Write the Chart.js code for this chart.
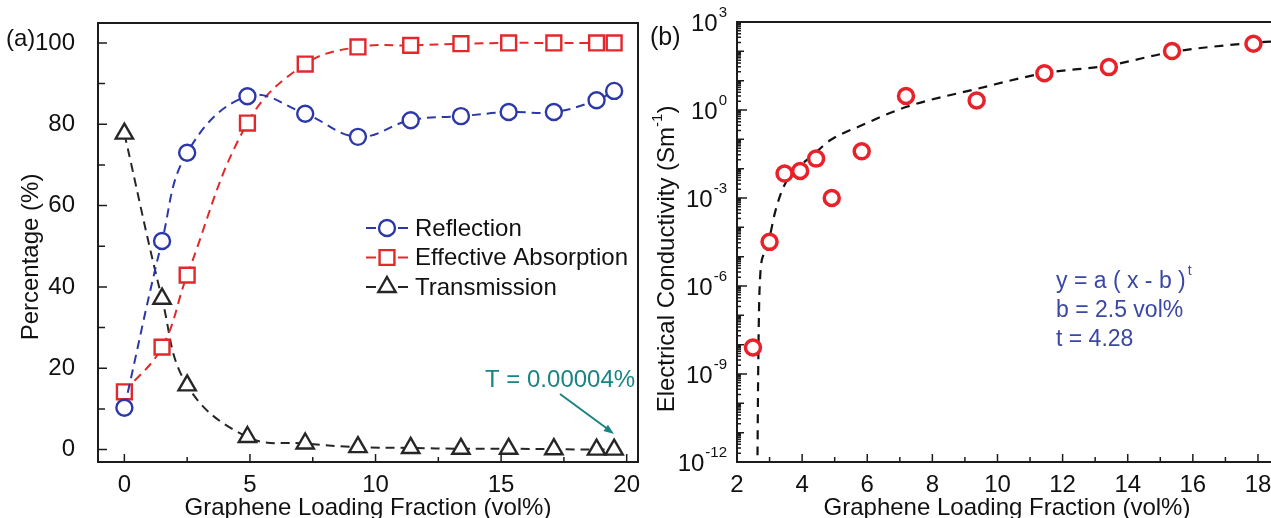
<!DOCTYPE html>
<html>
<head>
<meta charset="UTF-8">
<title>Graphene loading fraction</title>
<script src="https://cdn.jsdelivr.net/npm/chart.js"></script>
<style>
  body { margin: 0; background: #fff; width: 1271px; height: 518px; overflow: hidden; }
  .panel { position: absolute; top: 0; height: 518px; }
  #pa { left: 0; width: 645px; }
  #pb { left: 645px; width: 626px; }
</style>
</head>
<body>
<div class="panel" id="pa"><canvas id="ga" width="645" height="518"></canvas></div>
<div class="panel" id="pb"><canvas id="gb" width="626" height="518"></canvas></div>
<script>
// (a) shielding percentages
const loadA = [0, 1.5, 2.5, 4.9, 7.2, 9.3, 11.4, 13.4, 15.3, 17.1, 18.8, 19.5];
const reflection = [10.3, 51.3, 73, 86.9, 82.6, 76.9, 81, 82, 83, 83, 85.9, 88.2];
const absorption = [14.2, 25.2, 42.9, 80.3, 94.8, 99, 99.4, 99.8, 100, 100, 100, 100];
const transmission = [77.7, 37.1, 15.8, 3.1, 1.5, 0.6, 0.4, 0.2, 0.2, 0.1, 0, 0];
const xTicksA = [0, 5, 10, 15, 20];
const yTicksA = [0, 20, 40, 60, 80, 100];

// (b) conductivity + percolation fit
const loadB = [2.49, 3.0, 3.46, 3.94, 4.43, 4.91, 5.83, 7.19, 9.36, 11.44, 13.42, 15.36, 17.86];
const sigma = [8e-9, 3.2e-5, 6.8e-3, 8.3e-3, 2.2e-2, 1e-3, 3.9e-2, 3.0, 2.1, 18, 29, 102, 182];
const fitX = [2.63, 2.65, 2.69, 2.82, 3.0, 3.17, 3.43, 3.74, 4.1, 4.5, 4.86, 5.83, 7.19, 9.41, 11.44, 13.42, 15.36, 17.86, 18.4];
const fitY = [1.7e-12, 1e-9, 6.3e-7, 1.26e-5, 4.7e-5, 3.3e-4, 2.4e-3, 7.8e-3, 1.8e-2, 4.3e-2, 9.3e-2, 0.3, 1.26, 5.4, 18, 33, 95, 195, 215];
const xTicksB = [2, 4, 6, 8, 10, 12, 14, 16, 18];
const yTicksB = [1e3, 1e0, 1e-3, 1e-6, 1e-9, 1e-12];

Chart.defaults.font.family = "'Liberation Sans', Arial, sans-serif";
Chart.defaults.color = '#111';

const FONT = "'Liberation Sans', Arial, sans-serif";
const INK = '#1c1c1c';

function pts(xs, ys) { return xs.map((x, i) => ({ x: x, y: ys[i] })); }

// frame + inward ticks
function drawBox(chart, xt, yt, openRight) {
  const { ctx, chartArea: a, scales } = chart;
  ctx.save();
  ctx.strokeStyle = INK;
  ctx.lineWidth = 2;
  ctx.beginPath();
  if (openRight) {
    ctx.moveTo(a.right + 2, a.top); ctx.lineTo(a.left, a.top);
    ctx.lineTo(a.left, a.bottom); ctx.lineTo(a.right + 2, a.bottom);
  } else {
    ctx.rect(a.left, a.top, a.right - a.left, a.bottom - a.top);
  }
  ctx.stroke();
  ctx.lineWidth = 1.5;
  ctx.beginPath();
  xt.forEach(t => {
    const px = scales.x.getPixelForValue(t[0]);
    ctx.moveTo(px, a.bottom); ctx.lineTo(px, a.bottom - t[1]);
  });
  yt.forEach(t => {
    const py = scales.y.getPixelForValue(t[0]);
    ctx.moveTo(a.left, py); ctx.lineTo(a.left + t[1], py);
  });
  ctx.stroke();
  ctx.restore();
}

function vText(ctx, parts, cx, cy) {
  // parts: [text, size, raise]
  ctx.save();
  ctx.translate(cx, cy);
  ctx.rotate(-Math.PI / 2);
  let w = 0;
  parts.forEach(p => { ctx.font = p[1] + 'px ' + FONT; w += ctx.measureText(p[0]).width; });
  let x = -w / 2;
  ctx.textBaseline = 'middle';
  ctx.textAlign = 'left';
  parts.forEach(p => {
    ctx.font = p[1] + 'px ' + FONT;
    ctx.fillText(p[0], x, -p[2]);
    x += ctx.measureText(p[0]).width;
  });
  ctx.restore();
}

function fixTicks(list) {
  return s => { s.ticks = list.map(v => ({ value: v })); };
}
function fitX_(h) {
  return s => { s.height = h; s.paddingLeft = 0; s.paddingRight = 0; };
}
function fitY_(w) {
  return s => { s.width = w; s.paddingTop = 0; s.paddingBottom = 0; };
}

// ---------- panel (a) ----------
function line(label, data, color, style, r) {
  return {
    label: label, data: pts(loadA, data), showLine: true,
    borderColor: color, borderWidth: 2, borderDash: [9, 6], tension: 0.4,
    pointStyle: style, pointRadius: r, pointHoverRadius: r,
    pointBorderColor: color, pointBackgroundColor: '#fff', pointBorderWidth: 2.4
  };
}

const xMinorA = [2.5, 7.5, 12.5, 17.5];
const yMinorA = [10, 30, 50, 70, 90];

new Chart(document.getElementById('ga'), {
  type: 'scatter',
  data: {
    datasets: [
      line('Reflection', reflection, '#2c38a8', 'circle', 8),
      line('Effective Absorption', absorption, '#e2282a', 'rect', 10.5),
      line('Transmission', transmission, '#262626', 'triangle', 10)
    ]
  },
  options: {
    responsive: false,
    animation: false,
    layout: { autoPadding: false, padding: { top: 23, right: 7, left: 0, bottom: 0 } },
    plugins: { legend: { display: false }, tooltip: { enabled: false } },
    scales: {
      x: {
        type: 'linear', min: -1.05, max: 20.45,
        grid: { display: false }, border: { display: false },
        ticks: { font: { size: 24 }, color: '#111', padding: 1, maxRotation: 0 },
        afterBuildTicks: fixTicks(xTicksA),
        afterFit: fitX_(56)
      },
      y: {
        type: 'linear', min: -3.05, max: 104.9,
        grid: { display: false }, border: { display: false },
        ticks: { font: { size: 24 }, color: '#111', padding: 15 },
        afterBuildTicks: fixTicks(yTicksA),
        afterFit: fitY_(98)
      }
    }
  },
  plugins: [{
    id: 'decorA',
    afterDraw(chart) {
      const ctx = chart.ctx;
      drawBox(chart,
        xTicksA.map(v => [v, 8]).concat(xMinorA.map(v => [v, 5])),
        yTicksA.map(v => [v, 9]).concat(yMinorA.map(v => [v, 7])), false);
      ctx.save();
      ctx.fillStyle = '#111';
      ctx.textBaseline = 'alphabetic';
      ctx.textAlign = 'center';
      ctx.font = '24px ' + FONT;
      ctx.fillText('Graphene Loading Fraction (vol%)', 368, 515);
      vText(ctx, [['Percentage (%)', 24, 0]], 31, 257);
      ctx.textAlign = 'left';
      ctx.textBaseline = 'middle';
      ctx.font = '24px ' + FONT;
      ctx.fillText('(a)', 6, 39);

      // legend
      chart.data.datasets.forEach((d, i) => {
        const y = 228 + i * 29.5;
        ctx.strokeStyle = d.borderColor;
        ctx.lineWidth = 2;
        ctx.beginPath();
        ctx.moveTo(366, y); ctx.lineTo(376, y);
        ctx.moveTo(398, y); ctx.lineTo(408, y);
        ctx.stroke();
        ctx.fillStyle = '#fff';
        ctx.lineWidth = 2.4;
        Chart.helpers.drawPoint(ctx, { pointStyle: d.pointStyle, radius: d.pointRadius, borderWidth: 2.4, rotation: 0 }, 387, y);
        ctx.fillStyle = '#111';
        ctx.font = '24px ' + FONT;
        ctx.textAlign = 'left';
        ctx.fillText(d.label, 415, y + 1);
      });

      // T annotation
      const teal = '#1b8482';
      ctx.fillStyle = teal;
      ctx.strokeStyle = teal;
      ctx.font = '24px ' + FONT;
      ctx.fillText('T = 0.00004%', 485, 380);
      const x0 = 560, y0 = 394, x1 = 614, y1 = 434;
      ctx.lineWidth = 2;
      ctx.beginPath(); ctx.moveTo(x0, y0); ctx.lineTo(x1 - 5, y1 - 4); ctx.stroke();
      const ang = Math.atan2(y1 - y0, x1 - x0);
      ctx.beginPath();
      ctx.moveTo(x1, y1);
      ctx.lineTo(x1 - 11 * Math.cos(ang - 0.35), y1 - 11 * Math.sin(ang - 0.35));
      ctx.lineTo(x1 - 11 * Math.cos(ang + 0.35), y1 - 11 * Math.sin(ang + 0.35));
      ctx.closePath(); ctx.fill();
      ctx.restore();
    }
  }]
});

// ---------- panel (b) ----------
const xMinorB = [3, 5, 7, 9, 11, 13, 15, 17];
const decB = [], subB = [];
for (let k = -12; k <= 2; k++) {
  if (k % 3 !== 0) decB.push(Math.pow(10, k));
  for (let m = 2; m <= 9; m++) subB.push(m * Math.pow(10, k));
}

new Chart(document.getElementById('gb'), {
  type: 'scatter',
  data: {
    datasets: [
      {
        label: 'Electrical conductivity', data: pts(loadB, sigma),
        pointStyle: 'circle', pointRadius: 7.5, pointHoverRadius: 7.5,
        pointBorderColor: '#e8222a', pointBackgroundColor: '#fff', pointBorderWidth: 3.5,
        showLine: false
      },
      {
        label: 'Fit', data: pts(fitX, fitY), showLine: true,
        borderColor: '#111', borderWidth: 2.2, borderDash: [9, 7],
        cubicInterpolationMode: 'monotone', pointRadius: 0, pointHoverRadius: 0
      }
    ]
  },
  options: {
    responsive: false,
    animation: false,
    layout: { autoPadding: false, padding: { top: 22, right: 0, left: 0, bottom: 0 } },
    plugins: { legend: { display: false }, tooltip: { enabled: false } },
    scales: {
      x: {
        type: 'linear', min: 2, max: 18.4,
        grid: { display: false }, border: { display: false },
        ticks: { font: { size: 24 }, color: '#111', padding: 1, maxRotation: 0 },
        afterBuildTicks: fixTicks(xTicksB),
        afterFit: fitX_(56)
      },
      y: {
        type: 'logarithmic', min: 1e-12, max: 1e3,
        grid: { display: false }, border: { display: false },
        ticks: { display: false },
        afterBuildTicks: fixTicks(yTicksB),
        afterFit: fitY_(92)
      }
    }
  },
  plugins: [{
    id: 'decorB',
    afterDraw(chart) {
      const ctx = chart.ctx;
      const a = chart.chartArea;
      const ys = chart.scales.y;
      drawBox(chart,
        xTicksB.map(v => [v, 8]).concat(xMinorB.map(v => [v, 5])),
        yTicksB.map(v => [v, 10]).concat(decB.map(v => [v, 7])).concat(subB.map(v => [v, 4])), true);
      ctx.save();
      ctx.fillStyle = '#111';
      // log tick labels 10^n
      yTicksB.forEach(v => {
        const py = ys.getPixelForValue(v);
        const e = String(Math.round(Math.log10(v)));
        const xr = a.left - 10;
        ctx.textAlign = 'right';
        ctx.textBaseline = 'middle';
        ctx.font = '15px ' + FONT;
        const ew = ctx.measureText(e).width;
        ctx.fillText(e, xr, py - 9);
        ctx.font = '24px ' + FONT;
        ctx.fillText('10', xr - ew - 1, py + 2);
      });
      ctx.textAlign = 'center';
      ctx.textBaseline = 'alphabetic';
      ctx.font = '24px ' + FONT;
      ctx.fillText('Graphene Loading Fraction (vol%)', 362, 515);
      vText(ctx, [['Electrical Conductivity (Sm', 24, 0], ['-1', 15, 9], [')', 24, 0]], 22, 259);
      ctx.textAlign = 'left';
      ctx.textBaseline = 'middle';
      ctx.font = '25px ' + FONT;
      ctx.fillText('(b)', 5, 38);

      // fit text
      ctx.fillStyle = '#3a47a4';
      ctx.font = '23px ' + FONT;
      const tx = 411;
      ctx.fillText('y = a ( x - b )', tx, 282);
      const w = ctx.measureText('y = a ( x - b )').width;
      ctx.font = '14px ' + FONT;
      ctx.fillText('t', tx + w + 2, 271);
      ctx.font = '23px ' + FONT;
      ctx.fillText('b = 2.5 vol%', tx, 311);
      ctx.fillText('t = 4.28', tx, 340);
      ctx.restore();
    }
  }]
});
</script>
</body>
</html>
